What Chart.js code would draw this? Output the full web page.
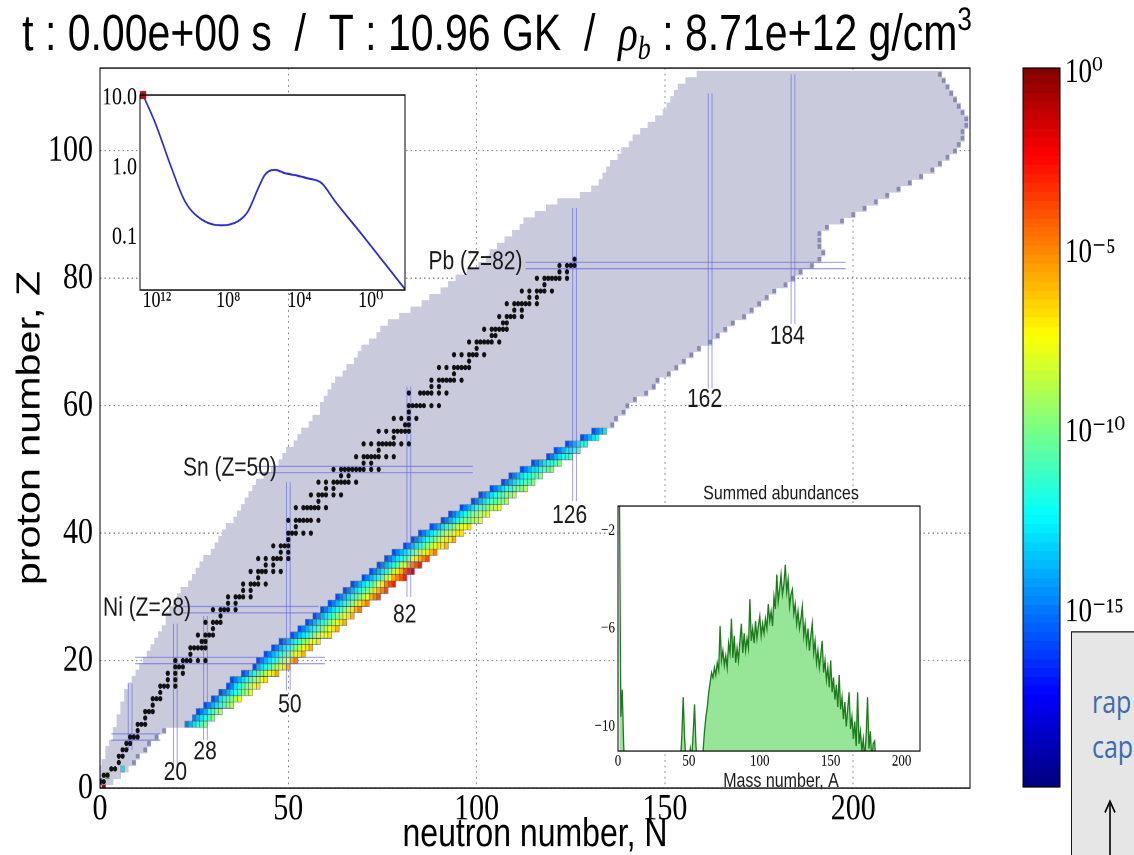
<!DOCTYPE html>
<html>
<head>
<meta charset="utf-8">
<title>r-process nuclide chart</title>
<script src="https://cdn.jsdelivr.net/npm/chart.js@4.4.1/dist/chart.umd.min.js"></script>
<style>
  html, body { margin: 0; padding: 0; background: #fff; overflow: hidden; width: 1134px; height: 855px; }
  /* the reference frame is stretched vertically, so the whole stage is too */
  #stage { position: absolute; left: 0; top: 0; width: 1134px; height: 684px; transform: scaleY(1.25); transform-origin: 0 0; }
  #stage canvas { position: absolute; }
  #nuclides { left: 0; top: 0; }
  #temperature { left: 60px; top: 70px; }
  #summed { left: 585px; top: 385px; }
  #colorbar { left: 1010px; top: 30px; }
  #note { position: absolute; left: 1071px; top: 505px; width: 90px; height: 200px; box-sizing: border-box;
          background: #e6e6e6; border: 1.5px solid #1a1a1a; color: #3b6cae;
          font: 25px "Open Sans", sans-serif; line-height: 36px; padding: 36px 0 0 20px; }
  #note svg { position: absolute; left: 28px; top: 130px; }
</style>
</head>
<body>
<div id="stage">
  <canvas id="nuclides" width="1134" height="684"></canvas>
  <canvas id="temperature" width="350" height="185"></canvas>
  <canvas id="summed" width="345" height="250"></canvas>
  <canvas id="colorbar" width="124" height="610"></canvas>
  <div id="note">rap<br>cap<svg width="20" height="70"><line x1="10" y1="6" x2="10" y2="70" stroke="#000" stroke-width="1.6"/><polyline points="5,14 10,5 15,14" fill="none" stroke="#000" stroke-width="1.6"/></svg></div>
</div>
<script>
// ---- data ----

// extent of the nuclide network, index = proton number Z (0..112)
var regionNmin = [0,0,0,0,1,2,2,3,4,4, 5,5,6,6,7,7,8,9,10,11, 12,13,14,15,16,17,18,18,19,20,
  21,22,24,25,26,27,28,30,31,32, 33,34,36,37,38,39,40,41,42,44, 46,48,49,50,52,53,54,56,57,59,
  59,60,61,62,63,65,66,68,69,70, 72,74,75,77,80,83,86,88,91,93, 95,98,101,103,104,106,108,110,112,113,
  116,119,122,128,131,133,134,135,136,138, 139,141,142,144,146,148,150,151,152,153, 154,156,159];
var regionNmax = [1,3,5,7,9,10,12,13,15,17, 28,30,32,35,37,40,42,44,47,50, 52,54,56,58,61,63,65,67,69,71,
  74,76,78,81,83,85,87,89,92,94, 96,98,101,103,106,108,110,113,115,117, 120,122,125,127,129,132,134,136,137,139,
  140,142,145,147,148,151,153,155,157,159, 162,164,166,168,171,173,175,177,179,182, 184,186,189,191,192,191,191,191,193,197,
  200,203,206,209,212,215,218,221,223,225, 227,228,229,229,230,230,229,228,227,226, 225,224,223];

// abundances (log10) on the neutron-rich side, rows Z = 10..56, each row ends at regionNmax
var bandZ = [10,11,12,13,14,15,16,17,18,19,20,21,22,23,24,25,26,27,28,29,30,31,32,33,34,35,36,37,38,39,40,
  41,42,43,44,45,46,47,48,49,50,51,52,53,54,55,56];
var bandLogAbund = [
  [-15,-14,-13,-12,-11,-10],
  [-15,-14,-13,-12,-11,-10],
  [-16,-15,-14,-12,-11,-10,-9],
  [-16,-15,-14,-13,-12,-11,-10,-9],
  [-16,-15,-13,-12,-11,-10,-9,-8],
  [-16,-15,-14,-13,-12,-11,-10,-9,-8],
  [-16,-15,-13,-12,-11,-10,-9,-8,-7],
  [-16,-15,-14,-13,-12,-11,-10,-9,-8,-7],
  [-16,-15,-13,-12,-11,-10,-9,-8,-7,-6],
  [-16,-14,-13,-12,-11,-10,-9,-8,-7,-6],
  [-16,-15,-14,-13,-12,-11,-10,-9,-8,-6,-5],
  [-16,-15,-14,-13,-12,-11,-10,-9,-8,-7,-6],
  [-16,-15,-14,-13,-12,-11,-10,-9,-8,-7,-6],
  [-16,-15,-14,-13,-12,-11,-10,-9,-8,-8,-7],
  [-16,-15,-14,-13,-12,-11,-10,-9,-8,-8,-7],
  [-16,-15,-14,-13,-12,-11,-10,-9,-8,-7,-6],
  [-16,-15,-14,-13,-12,-11,-10,-9,-8,-7,-6],
  [-16,-15,-14,-13,-12,-11,-10,-9,-8,-7,-6],
  [-16,-15,-14,-13,-12,-11,-10,-9,-7,-6,-5],
  [-16,-15,-14,-13,-12,-11,-10,-9,-7,-6,-5],
  [-16,-15,-14,-13,-12,-11,-10,-9,-8,-6,-5,-4],
  [-16,-15,-14,-13,-12,-11,-10,-9,-7,-6,-5,-4],
  [-16,-15,-14,-13,-12,-11,-10,-8,-7,-5,-4,-3],
  [-16,-15,-14,-13,-12,-11,-9,-8,-6,-5,-4,-3],
  [-16,-15,-14,-13,-12,-10,-9,-7,-6,-4,-3,-2],
  [-16,-15,-14,-13,-12,-11,-9,-8,-6,-5,-4,-3],
  [-16,-15,-14,-13,-12,-11,-10,-8,-7,-6,-5,-4],
  [-16,-15,-14,-13,-12,-11,-10,-9,-8,-7,-6,-5],
  [-16,-15,-14,-13,-12,-11,-10,-9,-8,-7,-7,-6],
  [-16,-15,-14,-13,-12,-11,-10,-9,-8,-7,-7,-6],
  [-16,-15,-14,-13,-12,-11,-10,-9,-9,-8,-7,-7],
  [-16,-15,-14,-13,-12,-11,-10,-9,-8,-8,-7],
  [-16,-15,-14,-13,-12,-11,-10,-10,-9,-9,-8],
  [-16,-15,-14,-13,-12,-11,-10,-10,-9,-9,-8],
  [-16,-15,-14,-13,-12,-11,-11,-10,-9,-9,-8],
  [-16,-15,-14,-13,-12,-11,-11,-10,-10,-9],
  [-16,-15,-14,-13,-12,-11,-11,-10,-10,-9],
  [-16,-15,-14,-13,-12,-12,-11,-10,-10,-9],
  [-16,-15,-14,-13,-12,-12,-11,-11,-10],
  [-16,-15,-14,-13,-12,-12,-11,-11,-10],
  [-16,-15,-14,-13,-13,-12,-11,-11,-10],
  [-16,-15,-14,-13,-12,-12,-11,-10],
  [-16,-15,-14,-13,-12,-12,-11],
  [-16,-15,-14,-13,-13,-12,-11],
  [-16,-15,-14,-13,-12,-12],
  [-16,-15,-14,-13,-12],
  [-16,-15,-14,-13]
];
// free nucleons and light species near the origin
var lightN = [1, 0, 2, 6];
var lightZ = [0, 1, 2, 3];
var lightLogAbund = [-0.5, -1.5, -9, -13];

// stable isotopes: neutron numbers for Z = 1..83
var stableN = [
  [0,1],[1,2],[3,4],[5],[5,6],[6,7],[7,8],[8,9,10],[10],[10,11,12],
  [12],[12,13,14],[14],[14,15,16],[16],[16,17,18,20],[18,20],[18,20,22],[20,21,22],[20,22,23,24,26,28],
  [24],[24,25,26,27,28],[27,28],[26,28,29,30],[30],[28,30,31,32],[32],[30,32,33,34,36],[34,36],[34,36,37,38,40],
  [38,40],[38,40,41,42,44],[42],[40,42,43,44,46,48],[44,46],[42,44,46,47,48,50],[48,50],[46,48,49,50],[50],[50,51,52,54,56],
  [52],[50,52,53,54,55,56,58],[],[52,54,55,56,57,58,60],[58],[56,58,59,60,62,64],[60,62],[58,60,62,63,64,65,66,68],[64,66],[62,64,65,66,67,68,69,70,72,74],
  [70,72],[68,70,71,72,73,74,76,78],[74],[70,72,74,75,76,77,78,80,82],[78],[74,76,78,79,80,81,82],[81,82],[78,80,82,84],[82],[82,83,84,85,86,88,90],
  [],[82,85,86,87,88,90,92],[88,90],[88,90,91,92,93,94,96],[94],[90,92,94,95,96,97,98],[98],[94,96,98,99,100,102],[100],[98,100,101,102,103,104,106],
  [104,105],[102,104,105,106,107,108],[107,108],[106,108,109,110,112],[110,112],[108,110,111,112,113,114,116],[114,116],[112,114,116,117,118,120],[118],[116,118,119,120,121,122,124],
  [122,124],[122,124,125,126],[126]
];

// magic-number guide lines
var magicN = [8, 20, 28, 50, 82, 126, 162, 184];
var magicNZfrom = [6, 3.3, 7.5, 15.3, 30, 45, 62.7, 72.8];
var magicNZto = [16.4, 25.8, 27, 48, 63, 91, 109, 112];
var magicZ = [8, 20, 28, 50, 82];
var magicZNfrom = [3, 9.3, 22, 41, 113];
var magicZNto = [16, 59.7, 58, 99, 198];
var labelText = ['20', '28', '50', '82', '126', '162', '184', 'Ni (Z=28)', 'Sn (Z=50)', 'Pb (Z=82)'];
var labelN = [20, 27.9, 50.4, 80.9, 124.7, 160.5, 182.5, 12.5, 34.5, 99.7];
var labelZ = [2.4, 5.6, 13, 27.1, 42.7, 61, 70.9, 28.2, 50.2, 82.5];

// upper inset: temperature history
var tempTime = [6.0e12, 1.3e12, 1.5e11, 2.7e10, 3.1e9, 2.3e8, 2.8e7, 7.8e6, 2.1e6, 8.7e5, 2.4e5, 6.6e4, 1.8e4, 3.4e3, 575, 102, 3.2, 0.012];
var tempGK = [10.96, 4.5, 0.98, 0.33, 0.18, 0.148, 0.17, 0.235, 0.5, 0.79, 0.93, 0.83, 0.78, 0.7, 0.6, 0.33, 0.11, 0.018];
var tempTicksX = [1e12, 1e8, 1e4, 1];
var tempTicksY = [0.1, 1, 10];

// lower inset: summed abundances vs mass number
var lightA = [1, 2, 3, 4, 5];
var lightAbund = [-0.2, -9.6, -8.5, -10.8, -11.6];
var heavyFirstA = 44;
var heavyAbund = [
  -11.5,-10.4,-8.8,-10.5,-11.5,-11.6,-11.4,-10.9,-11.3,-10.3,
  -9.1,-10.8,-11.5,-11.4,-11.2,-11.3,-11.0,-10.2,-9.6,-9.2,
  -8.6,-8.2,-7.8,-8.0,-7.6,-7.9,-7.4,-7.7,-5.9,-7.3,
  -6.9,-7.5,-7.1,-7.6,-6.6,-7.0,-5.6,-7.2,-6.3,-7.4,
  -6.8,-7.3,-6.5,-5.8,-7.0,-6.2,-6.9,-6.4,-6.8,-4.8,
  -6.5,-6.0,-6.6,-5.7,-6.4,-5.9,-5.5,-6.3,-5.8,-6.2,
  -5.6,-6.0,-5.0,-5.7,-5.3,-5.9,-4.7,-5.2,-3.8,-4.9,
  -4.4,-3.8,-4.6,-4.2,-3.4,-4.5,-4.0,-5.1,-4.6,-4.4,
  -5.4,-5.0,-5.8,-5.3,-6.0,-5.6,-5.1,-6.3,-5.8,-6.6,
  -6.0,-6.9,-6.3,-5.8,-7.0,-6.5,-7.4,-6.9,-7.6,-7.1,
  -6.5,-7.8,-7.3,-8.1,-7.6,-8.4,-7.3,-8.6,-8.0,-8.9,
  -8.3,-9.2,-7.9,-9.3,-8.8,-9.7,-9.0,-10.0,-9.3,-8.6,
  -10.1,-9.6,-10.5,-9.8,-10.8,-8.6,-10.7,-10.2,-11.0,-10.5,
  -11.3,-10.4,-8.8,-10.9,-10.2,-11.4,-10.7,-10.6,-11.5,-11.6
];
var colorbarTicks = [0, -5, -10, -15];

// ---- helpers ----
var SANS = '"Liberation Sans", Arial, sans-serif';
var SERIF = '"Liberation Serif", "DejaVu Serif", serif';
Chart.defaults.font.family = SANS;
Chart.defaults.color = '#000';

function jet(v) {   // log10 abundance -20..0 -> jet colour
  var t = Math.min(1, Math.max(0, (v + 20) / 20));
  var c = function (k) { return Math.round(255 * Math.min(1, Math.max(0, 1.5 - Math.abs(4 * t - k)))); };
  return 'rgb(' + c(3) + ',' + c(2) + ',' + c(1) + ')';
}
var SUP = {'0':'⁰','1':'¹','2':'²','3':'³','4':'⁴','5':'⁵','6':'⁶','7':'⁷','8':'⁸','9':'⁹','-':'⁻'};
function sup(s) { return String(s).split('').map(function (c) { return SUP[c] || c; }).join(''); }

var framePlugin = {
  id: 'frame',
  afterDraw: function (chart) {
    var a = chart.chartArea, ctx = chart.ctx;
    ctx.save();
    ctx.strokeStyle = '#000';
    ctx.lineWidth = 1;
    ctx.strokeRect(a.left, a.top, a.right - a.left, a.bottom - a.top);
    ctx.restore();
  }
};
var whiteAreaPlugin = {
  id: 'whiteArea',
  beforeDraw: function (chart) {
    var a = chart.chartArea, ctx = chart.ctx;
    ctx.save();
    ctx.fillStyle = '#fff';
    ctx.fillRect(a.left, a.top, a.right - a.left, a.bottom - a.top);
    ctx.restore();
  }
};

// ---- main nuclide chart ----
var regionData = regionNmin.map(function (n, z) { return { y: z, x: [n - 0.5, regionNmax[z] + 0.5] }; });

var cellData = [], cellColors = [];
bandZ.forEach(function (z, r) {
  var first = regionNmax[z] - bandLogAbund[r].length + 1;
  bandLogAbund[r].forEach(function (v, k) {
    cellData.push({ y: z, x: [first + k - 0.5, first + k + 0.5] });
    cellColors.push(jet(v));
  });
});
lightN.forEach(function (n, i) {
  cellData.push({ y: lightZ[i], x: [n - 0.5, n + 0.5] });
  cellColors.push(jet(lightLogAbund[i]));
});

var edgeData = [];
regionNmax.forEach(function (n, z) {
  if (z > 3 && bandZ.indexOf(z) < 0) edgeData.push({ x: n, y: z });
});

var dotData = [];
stableN.forEach(function (ns, i) { ns.forEach(function (n) { dotData.push({ x: n, y: i + 1 }); }); });

var MAGIC = 'rgba(95,95,225,0.6)';
var datasets = [
  { type: 'scatter', data: dotData, pointRadius: 2.1, pointBackgroundColor: '#111', pointBorderWidth: 0, order: 1 },
  { type: 'bar', indexAxis: 'y', data: cellData, backgroundColor: cellColors, borderColor: 'rgba(0,0,0,0.35)',
    borderWidth: 0.6, borderSkipped: false, grouped: false, barPercentage: 1, categoryPercentage: 1, order: 4 },
  { type: 'scatter', data: edgeData, pointStyle: 'rect', pointRadius: 2.6, pointBackgroundColor: 'rgba(128,131,178,0.9)',
    pointBorderWidth: 0, order: 5 },
  { type: 'bar', indexAxis: 'y', data: regionData, backgroundColor: '#c9cbdd', borderWidth: 0,
    grouped: false, barPercentage: 1, categoryPercentage: 1, order: 6 }
];
magicN.forEach(function (n, i) {
  [-0.5, 0.5].forEach(function (d) {
    datasets.push({ type: 'scatter', showLine: true, pointRadius: 0, borderColor: MAGIC, borderWidth: 1, order: 3,
      data: [{ x: n + d, y: magicNZfrom[i] }, { x: n + d, y: magicNZto[i] }] });
  });
});
magicZ.forEach(function (z, i) {
  [-0.5, 0.5].forEach(function (d) {
    datasets.push({ type: 'scatter', showLine: true, pointRadius: 0, borderColor: MAGIC, borderWidth: 1, order: 3,
      data: [{ x: magicZNfrom[i], y: z + d }, { x: magicZNto[i], y: z + d }] });
  });
});

var labelsPlugin = {
  id: 'magicLabels',
  afterDraw: function (chart) {
    var ctx = chart.ctx, x = chart.scales.x, y = chart.scales.y;
    ctx.save();
    ctx.font = '21px ' + SANS;
    ctx.fillStyle = '#1a1a1a';
    ctx.textAlign = 'center';
    ctx.textBaseline = 'middle';
    labelText.forEach(function (t, i) {
      ctx.fillText(t, x.getPixelForValue(labelN[i]), y.getPixelForValue(labelZ[i]));
    });
    ctx.restore();
  }
};

var titlePlugin = {
  id: 'stateTitle',
  afterDraw: function (chart) {
    var ctx = chart.ctx;
    var parts = [
      { t: 't : 0.00e+00 s  /  T : 10.96 GK  /  ', f: '41px ' + SANS, dy: 0 },
      { t: 'ρ', f: 'italic 41px ' + SERIF, dy: 0 },
      { t: 'b', f: 'italic 26px ' + SERIF, dy: 7 },
      { t: ' : 8.71e+12 g/cm', f: '41px ' + SANS, dy: 0 },
      { t: '3', f: '26px ' + SANS, dy: -16 }
    ];
    ctx.save();
    ctx.fillStyle = '#000';
    ctx.textBaseline = 'alphabetic';
    var total = 0;
    parts.forEach(function (p) { ctx.font = p.f; p.w = ctx.measureText(p.t).width; total += p.w; });
    var xPos = 497 - total / 2;
    parts.forEach(function (p) {
      ctx.font = p.f;
      ctx.fillText(p.t, xPos, 40 + p.dy);
      xPos += p.w;
    });
    ctx.restore();
  }
};

new Chart(document.getElementById('nuclides'), {
  type: 'scatter',
  data: { datasets: datasets },
  options: {
    responsive: false,
    animation: false,
    events: [],
    devicePixelRatio: 2,
    layout: { padding: { left: 0, right: 164, top: 54.4, bottom: 0 } },
    plugins: { legend: { display: false }, tooltip: { enabled: false } },
    scales: {
      x: {
        type: 'linear', min: 0, max: 231, offset: false, z: 1,
        grid: { color: 'rgba(0,0,0,0.45)', drawTicks: false, offset: false },
        border: { display: false, dash: [1.5, 3] },
        ticks: { stepSize: 50, includeBounds: false, maxRotation: 0, padding: 2, font: { family: SERIF, size: 30, lineHeight: 1 } },
        title: { display: true, text: 'neutron number, N', font: { size: 32, lineHeight: 1 }, padding: { top: 0, bottom: 0 } },
        afterFit: function (s) { s.height = 53.6; }
      },
      y: {
        type: 'linear', min: 0, max: 113, offset: false, z: 1,
        grid: { color: 'rgba(0,0,0,0.45)', drawTicks: false, offset: false },
        border: { display: false, dash: [1.5, 3] },
        ticks: { stepSize: 20, includeBounds: false, padding: 7, font: { family: SERIF, size: 30 } },
        title: { display: true, text: 'proton number, Z', font: { size: 33, lineHeight: 1 }, padding: { top: 14, bottom: 0 } },
        afterFit: function (s) { s.width = 100; }
      }
    }
  },
  plugins: [framePlugin, labelsPlugin, titlePlugin]
});

// ---- inset: temperature ----
var tempCurve = tempTime.map(function (t, i) { return { x: t, y: tempGK[i] }; });
new Chart(document.getElementById('temperature'), {
  type: 'line',
  data: { datasets: [
    { data: [tempCurve[0]], showLine: false, pointRadius: 4.5, pointStyle: 'rect', pointBackgroundColor: '#b01515',
      pointBorderWidth: 0, clip: false, order: 1 },
    { data: tempCurve, borderColor: '#2a2ad2', borderWidth: 1.6, pointRadius: 0, cubicInterpolationMode: 'monotone', order: 2 }
  ] },
  options: {
    responsive: false, animation: false, events: [], devicePixelRatio: 2,
    layout: { padding: { left: 0, right: 5, top: 4.4, bottom: 0 } },
    plugins: { legend: { display: false }, tooltip: { enabled: false } },
    scales: {
      x: {
        type: 'logarithmic', reverse: true, min: 0.012, max: 8.9e12,
        grid: { display: false, drawTicks: false }, border: { display: false },
        afterBuildTicks: function (s) { s.ticks = tempTicksX.map(function (v) { return { value: v }; }); },
        ticks: { autoSkip: false, maxRotation: 0, padding: 0, font: { family: SERIF, size: 18, lineHeight: 1 },
          callback: function (v) { return '10' + sup(Math.round(Math.log10(v))); } },
        afterFit: function (s) { s.height = 23; }
      },
      y: {
        type: 'logarithmic', min: 0.0175, max: 11,
        grid: { display: false, drawTicks: false }, border: { display: false },
        afterBuildTicks: function (s) { s.ticks = tempTicksY.map(function (v) { return { value: v }; }); },
        ticks: { autoSkip: false, padding: 3, font: { family: SERIF, size: 20, lineHeight: 0.3 },
          callback: function (v) { return Number(v).toFixed(1); } },
        afterFit: function (s) { s.width = 80; }
      }
    }
  },
  plugins: [whiteAreaPlugin, framePlugin]
});

// ---- inset: summed abundances ----
var abundPoints = lightA.map(function (a, i) { return { x: a, y: lightAbund[i] }; });
abundPoints.push({ x: 20, y: null });
heavyAbund.forEach(function (v, i) { abundPoints.push({ x: heavyFirstA + i, y: v }); });

var insetTextPlugin = {
  id: 'insetText',
  afterDraw: function (chart) {
    var ctx = chart.ctx;
    ctx.save();
    ctx.font = '16px ' + SANS;
    ctx.fillStyle = '#1a1a1a';
    ctx.textAlign = 'center';
    ctx.textBaseline = 'middle';
    ctx.fillText('Summed abundances', 196, 10);
    ctx.fillText('Mass number, A', 196, 240);
    ctx.restore();
  }
};
new Chart(document.getElementById('summed'), {
  type: 'line',
  data: { datasets: [
    { data: abundPoints, borderColor: '#1d7a1d', borderWidth: 1.3, backgroundColor: '#97e597', fill: 'start',
      pointRadius: 0, tension: 0, spanGaps: false }
  ] },
  options: {
    responsive: false, animation: false, events: [], devicePixelRatio: 2,
    layout: { padding: { left: 0, right: 10, top: 19.8, bottom: 0 } },
    plugins: { legend: { display: false }, tooltip: { enabled: false } },
    scales: {
      x: {
        type: 'linear', min: 0, max: 213,
        grid: { display: false, drawTicks: false }, border: { display: false },
        ticks: { stepSize: 50, includeBounds: false, maxRotation: 0, padding: 2, font: { family: SERIF, size: 13, lineHeight: 1 } },
        afterFit: function (s) { s.height = 34.2; }
      },
      y: {
        type: 'linear', min: -11, max: -1,
        grid: { display: false, drawTicks: false }, border: { display: false },
        afterBuildTicks: function (s) { s.ticks = [-10, -6, -2].map(function (v) { return { value: v }; }); },
        ticks: { autoSkip: false, padding: 3, font: { family: SERIF, size: 13, lineHeight: 0.5 },
          callback: function (v) { return '\u2212' + Math.abs(v); } },
        afterFit: function (s) { s.width = 33; }
      }
    }
  },
  plugins: [whiteAreaPlugin, framePlugin, insetTextPlugin]
});

// ---- colour bar ----
var cbarSets = [];
for (var lv = -20; lv < 0; lv += 0.25) {
  cbarSets.push({ data: [[lv, Math.min(0, lv + 0.3)]], backgroundColor: jet(lv + 0.125), borderWidth: 0,
    grouped: false, barPercentage: 1, categoryPercentage: 1 });
}
new Chart(document.getElementById('colorbar'), {
  type: 'bar',
  data: { labels: [''], datasets: cbarSets },
  options: {
    responsive: false, animation: false, events: [], devicePixelRatio: 2,
    layout: { padding: { left: 13, right: 0, top: 24.4, bottom: 10.4 } },
    plugins: { legend: { display: false }, tooltip: { enabled: false } },
    scales: {
      x: { display: false },
      y: {
        position: 'right', min: -20, max: 0,
        grid: { display: false, drawTicks: false }, border: { display: false },
        afterBuildTicks: function (s) { s.ticks = colorbarTicks.map(function (v) { return { value: v }; }); },
        ticks: { autoSkip: false, padding: 5, labelOffset: 4, font: { family: SERIF, size: 27, lineHeight: 0.3 },
          callback: function (v) { return '10' + sup(v); } },
        afterFit: function (s) { s.width = 74; }
      }
    }
  },
  plugins: [framePlugin]
});
</script>
</body>
</html>
